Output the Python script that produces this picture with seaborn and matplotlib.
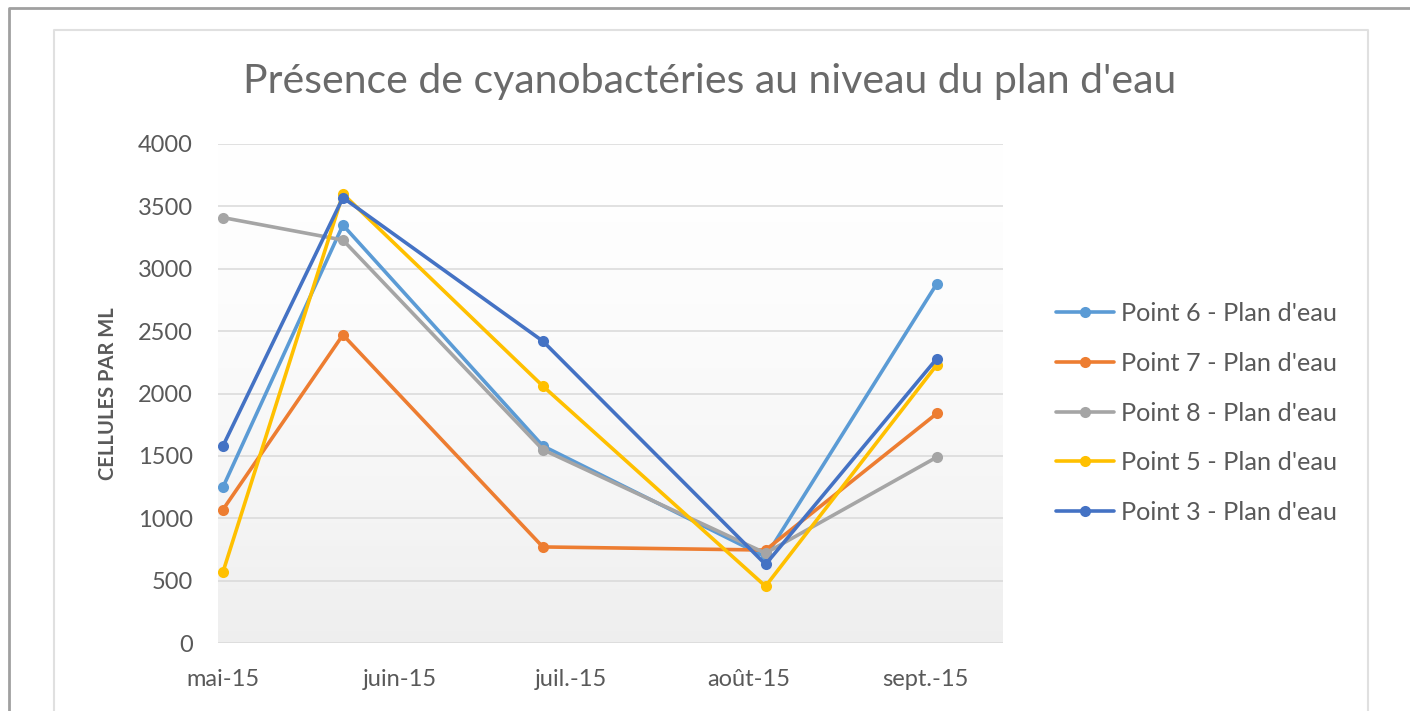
import numpy as np
import pandas as pd
import seaborn as sns
import matplotlib.pyplot as plt
from matplotlib.lines import Line2D

# Sampling dates and counts per point (cells per mL)
dates = ['2015-05-01', '2015-05-22', '2015-06-26', '2015-08-04', '2015-09-03']
point6 = [1250, 3350, 1580, 690, 2880]
point7 = [1070, 2470, 770, 745, 1840]
point8 = [3410, 3230, 1550, 720, 1490]
point5 = [570, 3600, 2060, 455, 2230]
point3 = [1580, 3570, 2420, 630, 2280]

series_names = ["Point 6 - Plan d'eau", "Point 7 - Plan d'eau", "Point 8 - Plan d'eau",
                "Point 5 - Plan d'eau", "Point 3 - Plan d'eau"]
series_values = [point6, point7, point8, point5, point3]
colors = ['#5B9BD5', '#ED7D31', '#A5A5A5', '#FFC000', '#4472C4']

month_ticks = ['2015-05-01', '2015-06-01', '2015-07-01', '2015-08-01', '2015-09-01']
month_labels = ['mai-15', 'juin-15', 'juil.-15', 'août-15', 'sept.-15']
y_ticks = [0, 500, 1000, 1500, 2000, 2500, 3000, 3500, 4000]

# Build long-form table for seaborn
rows = []
for name, vals in zip(series_names, series_values):
    for d, v in zip(dates, vals):
        rows.append({'date': pd.Timestamp(d), 'value': v, 'point': name})
df = pd.DataFrame(rows)

sns.set_theme(style='white')
plt.rcParams['font.family'] = ['Lato', 'DejaVu Sans']
text_col = '#595959'

fig = plt.figure(figsize=(14.1, 7.11), dpi=100)
ax = fig.add_axes([218 / 1410, 1 - 643 / 711, (1003 - 218) / 1410, (643 - 144) / 711])

# soft gradient in the plot area (white on top, light grey at the bottom)
grad = np.linspace(0, 1, 256).reshape(-1, 1) ** 1.5
top = np.array([1.0, 1.0, 1.0])
bot = np.array([0.935, 0.935, 0.935])
img = top + (bot - top) * grad[..., None]
ax.imshow(img, extent=[0, 1, 0, 1], transform=ax.transAxes, aspect='auto', zorder=0)

sns.lineplot(data=df, x='date', y='value', hue='point', hue_order=series_names,
             palette=colors, marker='o', markersize=8, markeredgewidth=0,
             linewidth=2.6, sort=False, ax=ax, zorder=3)

ax.set_ylim(0, 4000)
ax.set_xlim(pd.Timestamp('2015-04-30 03:00'), pd.Timestamp('2015-09-14 14:00'))
ax.set_yticks(y_ticks)
ax.set_xticks([pd.Timestamp(t) for t in month_ticks])
ax.set_xticklabels(month_labels)
ax.yaxis.grid(True, color='#d9d9d9', linewidth=1.1, zorder=1)
ax.xaxis.grid(False)
ax.set_axisbelow(True)
for s in ax.spines.values():
    s.set_visible(False)
ax.tick_params(axis='both', length=0, labelsize=17, colors=text_col)
ax.tick_params(axis='x', pad=19)
ax.tick_params(axis='y', pad=18)
ax.set_xlabel('')
ax.set_ylabel('CELLULES PAR ML', fontsize=14.5, fontweight='bold', color=text_col, labelpad=14)

leg = ax.legend(loc='center left', bbox_to_anchor=(1043 / 1410, 1 - 413 / 711),
                bbox_transform=fig.transFigure, frameon=False, fontsize=18.2,
                labelspacing=1.06, handlelength=2.3, handletextpad=0.27, borderpad=0)
for t in leg.get_texts():
    t.set_color(text_col)

fig.text(710 / 1410, 1 - 81 / 711, "Présence de cyanobactéries au niveau du plan d'eau",
         ha='center', va='center', fontsize=29.5, color='#6a6a6a')

# outer frame and chart border
fig.add_artist(Line2D([9 / 1410, 9 / 1410, 1], [0, 1 - 8 / 711, 1 - 8 / 711],
                      transform=fig.transFigure, color='#a0a0a0', linewidth=2))
fig.add_artist(Line2D([54 / 1410, 54 / 1410, 1368 / 1410, 1368 / 1410],
                      [0, 1 - 30 / 711, 1 - 30 / 711, 0],
                      transform=fig.transFigure, color='#e0e0e0', linewidth=1.5))

fig.savefig('out.png', dpi=100, facecolor='white')
